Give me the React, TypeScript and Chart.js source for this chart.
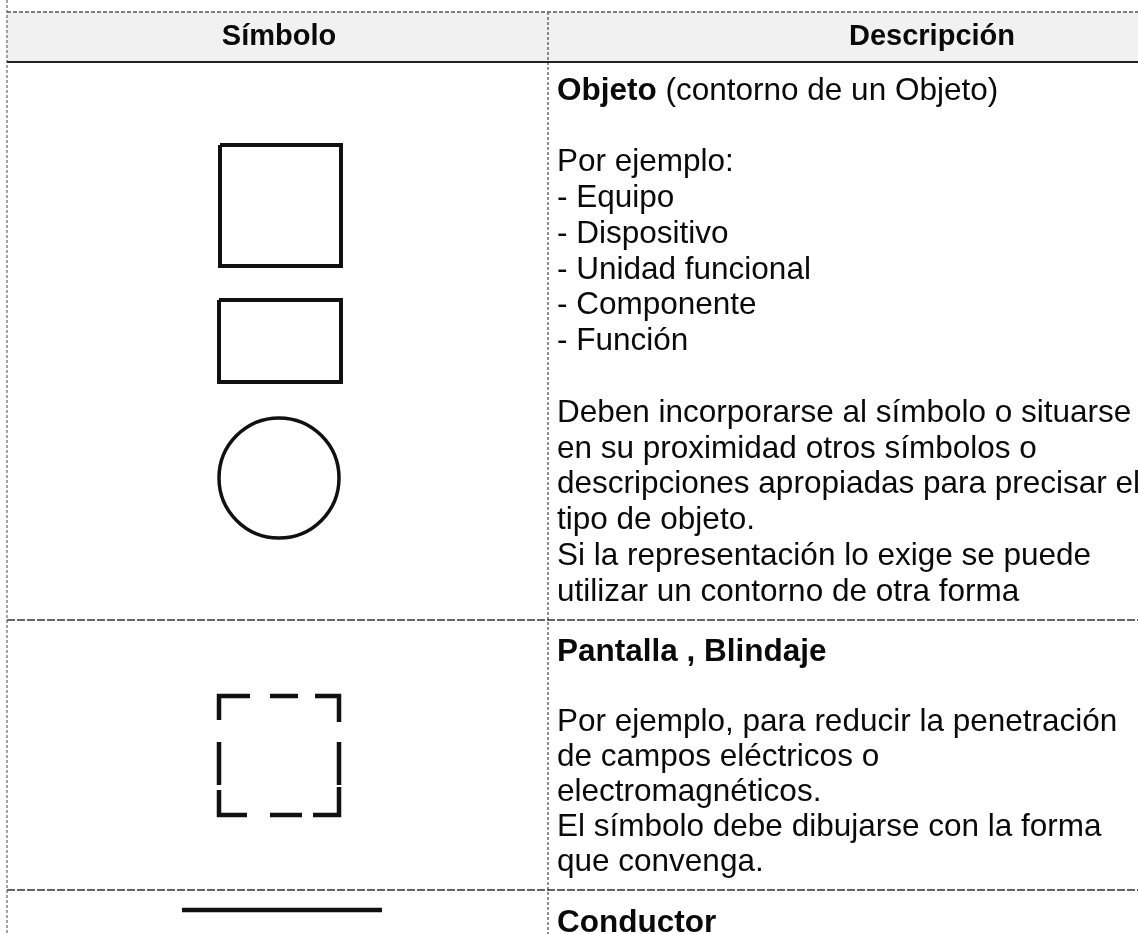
import React, { useEffect, useRef } from "react";
import { Chart, registerables } from "chart.js";

Chart.register(...registerables);

const W = 1138;
const H = 934;

// ---- Text content ----
const headerLabels = ["Símbolo", "Descripción"];
const row1Title = "Objeto";
const row1TitleNote = " (contorno de un Objeto)";
const row1Lines = [
  "",
  "Por ejemplo:",
  "- Equipo",
  "- Dispositivo",
  "- Unidad funcional",
  "- Componente",
  "- Función",
  "",
  "Deben incorporarse al símbolo o situarse",
  "en su proximidad otros símbolos o",
  "descripciones apropiadas para precisar el",
  "tipo de objeto.",
  "Si la representación lo exige se puede",
  "utilizar un contorno de otra forma",
];
const row2Title = "Pantalla , Blindaje";
const row2Lines = [
  "",
  "Por ejemplo, para reducir la penetración",
  "de campos eléctricos o",
  "electromagnéticos.",
  "El símbolo debe dibujarse con la forma",
  "que convenga.",
];
const row3Title = "Conductor";

// ---- Table geometry (values on the page-sized linear scales) ----
const rowLinesY = [12, 62, 620, 890];
const colLinesX = [7, 548];
const headerCentersX = [279, 932];
const headerCenterY = 37;
const textX = 557;
const rowFirstLineY = [91, 652, 923];
const lineSteps = [35.8, 35];

// ---- Symbols ----
const squarePts = [[220, 145], [341, 145], [341, 266], [220, 266], [220, 145]];
const rectPts = [[219, 300], [341, 300], [341, 382], [219, 382], [219, 300]];
const circleCenter = [279, 478];
const shieldSegments = [
  [[250, 696], [219, 696], [219, 720]],
  [[270, 696], [298, 696]],
  [[315, 696], [339, 696], [339, 722]],
  [[219, 742], [219, 785]],
  [[339, 742], [339, 785]],
  [[219, 790], [219, 815], [247, 815]],
  [[270, 815], [302, 815]],
  [[313, 815], [339, 815], [339, 787]],
];
const conductorPts = [[182, 910], [382, 910]];

type P = { x: number; y: number | null };
const toPts = (arr: number[][]): P[] => arr.map(([x, y]) => ({ x, y }));
const joinSegments = (segs: number[][][]): P[] => {
  const out: P[] = [];
  segs.forEach((s, i) => {
    if (i > 0) out.push({ x: s[0][0], y: null });
    out.push(...toPts(s));
  });
  return out;
};

const lineDs = (label: string, data: P[], color: string, width: number, dash: number[] = []) => ({
  label,
  data,
  showLine: true,
  spanGaps: false,
  borderColor: color,
  borderWidth: width,
  borderDash: dash,
  borderCapStyle: "butt" as const,
  borderJoinStyle: "miter" as const,
  pointRadius: 0,
  fill: false,
  tension: 0,
  clip: false,
});

const tablePlugin = {
  id: "tableText",
  beforeDatasetsDraw(chart: any) {
    const { ctx, scales } = chart;
    const xs = scales.x;
    const ys = scales.y;
    ctx.save();
    ctx.fillStyle = "#f1f1f1";
    const y0 = ys.getPixelForValue(rowLinesY[0]);
    const y1 = ys.getPixelForValue(rowLinesY[1]);
    const xL = xs.getPixelForValue(colLinesX[0]);
    ctx.fillRect(xL, y0, xs.getPixelForValue(W) - xL, y1 - y0);
    ctx.restore();
  },
  afterDatasetsDraw(chart: any) {
    const { ctx, scales } = chart;
    const xs = scales.x;
    const ys = scales.y;
    const reg = "31.5px 'Liberation Sans', Arial, sans-serif";
    const bold = "bold 31.5px 'Liberation Sans', Arial, sans-serif";
    ctx.save();
    ctx.fillStyle = "#0a0a0a";
    ctx.textBaseline = "middle";

    // header
    ctx.font = "bold 29px 'Liberation Sans', Arial, sans-serif";
    ctx.textAlign = "center";
    headerLabels.forEach((t, i) => {
      ctx.fillText(t, xs.getPixelForValue(headerCentersX[i]), ys.getPixelForValue(headerCenterY));
    });

    ctx.textAlign = "left";
    const tx = xs.getPixelForValue(textX);

    // row 1
    ctx.font = bold;
    const yy = ys.getPixelForValue(rowFirstLineY[0]);
    ctx.fillText(row1Title, tx, yy);
    const bw = ctx.measureText(row1Title).width;
    ctx.font = reg;
    ctx.fillText(row1TitleNote, tx + bw, yy);
    row1Lines.forEach((t, i) => {
      if (t) ctx.fillText(t, tx, ys.getPixelForValue(rowFirstLineY[0] + (i + 1) * lineSteps[0]));
    });

    // row 2
    ctx.font = bold;
    ctx.fillText(row2Title, tx, ys.getPixelForValue(rowFirstLineY[1]));
    ctx.font = reg;
    row2Lines.forEach((t, i) => {
      if (t) ctx.fillText(t, tx, ys.getPixelForValue(rowFirstLineY[1] + (i + 1) * lineSteps[1]));
    });

    // row 3
    ctx.font = bold;
    ctx.fillText(row3Title, tx, ys.getPixelForValue(rowFirstLineY[2]));
    ctx.restore();
  },
};

export default function App() {
  const ref = useRef<HTMLCanvasElement | null>(null);

  useEffect(() => {
    document.body.style.margin = "0";
    const canvas = ref.current;
    if (!canvas) return;

    const datasets: any[] = [
      lineDs("headerTop", toPts([[colLinesX[0], rowLinesY[0]], [W, rowLinesY[0]]]), "#555", 1.5, [4, 2]),
      lineDs("headerBottom", toPts([[colLinesX[0], rowLinesY[1]], [W, rowLinesY[1]]]), "#222", 2),
      lineDs("row1Bottom", toPts([[colLinesX[0], rowLinesY[2]], [W, rowLinesY[2]]]), "#333", 1.6, [8, 2]),
      lineDs("row2Bottom", toPts([[colLinesX[0], rowLinesY[3]], [W, rowLinesY[3]]]), "#333", 1.6, [8, 2]),
      lineDs("leftBorder", toPts([[colLinesX[0], 0], [colLinesX[0], H]]), "#666", 1.2, [3, 2]),
      lineDs("divider", toPts([[colLinesX[1], rowLinesY[0]], [colLinesX[1], H]]), "#555", 1.3, [3, 2]),
      lineDs("square", toPts(squarePts), "#111", 4),
      lineDs("rect", toPts(rectPts), "#111", 4),
      {
        label: "circle",
        data: [{ x: circleCenter[0], y: circleCenter[1] }],
        showLine: false,
        pointStyle: "circle",
        pointRadius: 60,
        pointBorderWidth: 3.5,
        pointBorderColor: "#111",
        pointBackgroundColor: "rgba(0,0,0,0)",
        clip: false,
      },
      lineDs("shield", joinSegments(shieldSegments), "#111", 4.5),
      lineDs("conductor", toPts(conductorPts), "#111", 4.5),
    ];

    const chart = new Chart(canvas, {
      type: "scatter",
      data: { datasets },
      options: {
        responsive: false,
        animation: false,
        events: [],
        layout: { padding: 0, autoPadding: false },
        plugins: {
          legend: { display: false },
          tooltip: { enabled: false },
          title: { display: false },
        },
        scales: {
          x: { type: "linear", min: 0, max: W, display: false },
          y: { type: "linear", min: 0, max: H, reverse: true, display: false },
        },
      },
      plugins: [tablePlugin],
    });

    return () => chart.destroy();
  }, []);

  return (
    <div style={{ width: W, height: H, background: "#fff" }}>
      <canvas ref={ref} width={W} height={H} style={{ display: "block" }} />
    </div>
  );
}
